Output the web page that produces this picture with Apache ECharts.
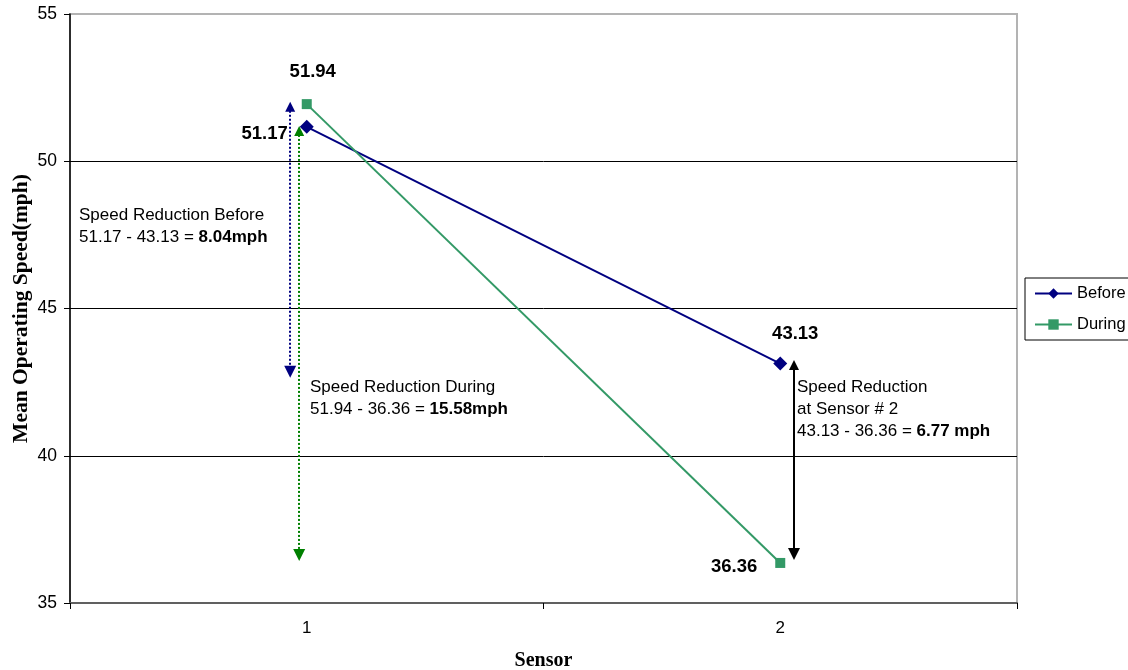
<!DOCTYPE html>
<html>
<head>
<meta charset="utf-8">
<script src="https://cdn.jsdelivr.net/npm/echarts@6/dist/echarts.min.js"></script>
<style>
  html, body { margin: 0; padding: 0; background: #fff; }
  #chart { width: 1128px; height: 670px; }
</style>
</head>
<body>
<div id="chart"></div>
<script>
// Mean operating speed at each sensor, before and during the work zone
const sensors = ['1', '2'];
const before = [51.17, 43.13];
const during = [51.94, 36.36];
const yTicks = { min: 35, max: 55, step: 5 };

// Vertical extent (mph) of the reduction arrows
const spanBefore = [51.85, 42.85];
const spanDuring = [51.03, 36.63];
const spanSensor2 = [43.08, 36.66];

const SANS = '"Liberation Sans", Arial, sans-serif';
const SERIF = '"Liberation Serif", "Times New Roman", serif';
const NAVY = '#000080';
const SEA = '#339966';

const fmt = v => v.toFixed(2);

const labelStyle = { show: true, fontFamily: SANS, fontSize: 18.5, fontWeight: 'bold', color: '#000' };

function arrow(x, span, color, type) {
  return {
    type: 'lines',
    coordinateSystem: 'cartesian2d',
    xAxisIndex: 1,
    yAxisIndex: 0,
    silent: true,
    symbol: ['triangle', 'triangle'],
    symbolSize: [10, 12],
    lineStyle: { color: color, width: 2, type: type, opacity: 1 },
    data: [{ coords: [[x, span[0]], [x, span[1]]] }],
    z: 3
  };
}

const chart = echarts.init(document.getElementById('chart'), null, { renderer: 'canvas' });

const textRich = {
  n: { fontFamily: SANS, fontSize: 17, color: '#000', lineHeight: 22 },
  b: { fontFamily: SANS, fontSize: 17, fontWeight: 'bold', color: '#000', lineHeight: 22 }
};

chart.setOption({
  animation: false,
  backgroundColor: '#fff',
  grid: {
    left: 70, right: 111, top: 14, bottom: 67,
    containLabel: false,
    outerBoundsMode: 'none',
    show: true, borderColor: '#b3b3b3', borderWidth: 2, backgroundColor: 'transparent'
  },
  legend: {
    orient: 'vertical',
    left: 1025, top: 278,
    padding: [7, 40, 7, 9],
    itemWidth: 37, itemHeight: 13, itemGap: 14,
    borderColor: '#000', borderWidth: 1,
    textStyle: { fontFamily: SANS, fontSize: 16.5, color: '#000' },
    data: ['Before', 'During']
  },
  xAxis: [{
    type: 'category',
    data: sensors,
    boundaryGap: true,
    name: 'Sensor',
    nameLocation: 'middle',
    nameGap: 48,
    nameTextStyle: { fontFamily: SERIF, fontSize: 20, fontWeight: 'bold', color: '#000' },
    axisLine: { lineStyle: { color: '#606060', width: 2 } },
    axisTick: { show: true, length: 6, lineStyle: { color: '#000', width: 1 } },
    axisLabel: { fontFamily: SANS, fontSize: 17, color: '#000', margin: 17 },
    splitLine: { show: false }
  }, {
    type: 'value',
    min: 0.5, max: 2.5,
    show: false
  }],
  yAxis: {
    type: 'value',
    min: yTicks.min, max: yTicks.max, interval: yTicks.step,
    name: 'Mean Operating Speed(mph)',
    nameLocation: 'middle',
    nameGap: 38,
    nameMoveOverlap: false,
    nameTextStyle: { fontFamily: SERIF, fontSize: 21.5, fontWeight: 'bold', color: '#000' },
    axisLine: { show: true, lineStyle: { color: '#000', width: 1.5 } },
    axisTick: { show: true, length: 6, lineStyle: { color: '#000', width: 1 } },
    axisLabel: { fontFamily: SANS, fontSize: 17.5, color: '#000', margin: 13 },
    splitLine: { show: true, lineStyle: { color: ['#606060', '#000', '#000', '#000', '#b3b3b3'], width: 1 } }
  },
  series: [
    {
      name: 'Before',
      type: 'line',
      symbol: 'diamond',
      symbolSize: 14,
      color: NAVY,
      lineStyle: { color: NAVY, width: 2 },
      itemStyle: { color: NAVY },
      z: 4,
      data: [
        { value: before[0], label: Object.assign({}, labelStyle, { position: 'left', distance: 12, offset: [0, 7] }) },
        { value: before[1], label: Object.assign({}, labelStyle, { position: 'top', distance: 13, offset: [15, 0] }) }
      ]
    },
    {
      name: 'During',
      type: 'line',
      symbol: 'rect',
      symbolSize: 10,
      color: SEA,
      lineStyle: { color: SEA, width: 2 },
      itemStyle: { color: SEA },
      z: 4,
      data: [
        { value: during[0], label: Object.assign({}, labelStyle, { position: 'top', distance: 18, offset: [6, 0] }) },
        { value: during[1], label: Object.assign({}, labelStyle, { position: 'left', distance: 18, offset: [0, 4] }) }
      ]
    },
    arrow(0.965, spanBefore, NAVY, 'dotted'),
    arrow(0.984, spanDuring, '#008000', 'dotted'),
    arrow(2.029, spanSensor2, '#000', 'solid')
  ],
  graphic: [
    {
      type: 'text', left: 79, top: 207, silent: true,
      style: {
        text: '{n|Speed Reduction Before}\n{n|' + fmt(before[0]) + ' - ' + fmt(before[1]) + ' = }{b|' + fmt(before[0] - before[1]) + 'mph}',
        rich: textRich
      }
    },
    {
      type: 'text', left: 310, top: 379, silent: true,
      style: {
        text: '{n|Speed Reduction During}\n{n|' + fmt(during[0]) + ' - ' + fmt(during[1]) + ' = }{b|' + fmt(during[0] - during[1]) + 'mph}',
        rich: textRich
      }
    },
    {
      type: 'text', left: 797, top: 379, silent: true,
      style: {
        text: '{n|Speed Reduction}\n{n|at Sensor # 2}\n{n|' + fmt(before[1]) + ' - ' + fmt(during[1]) + ' = }{b|' + fmt(before[1] - during[1]) + ' mph}',
        rich: textRich
      }
    }
  ]
});
</script>
</body>
</html>
